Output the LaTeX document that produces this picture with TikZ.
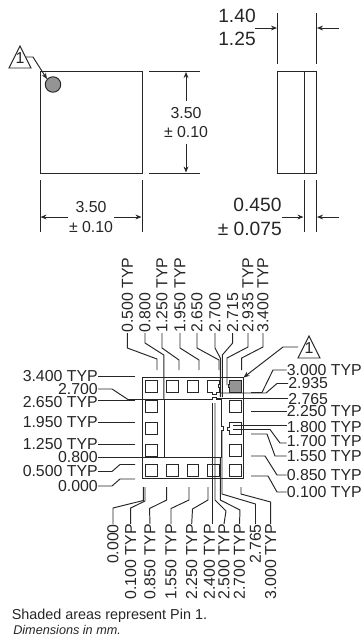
\documentclass[tikz,border=0pt]{standalone}
\usepackage{fontspec}
\setmainfont{Liberation Sans}
\usetikzlibrary{arrows.meta}
\newcommand{\fsA}{\fontsize{11.9}{13}\selectfont}
\newcommand{\fsB}{\fontsize{14.4}{16}\selectfont}
\tikzset{
  ln/.style={line width=0.72pt,black!85},
  dim/.style={ln,-{Stealth[length=4.5pt,width=3.6pt]}},
  txt/.style={inner sep=0pt,font=\fsA,text=black!85},
  big/.style={inner sep=0pt,font=\fsB,text=black!85},
  ltop/.style={txt,rotate=90,anchor=west},
  lbot/.style={txt,rotate=90,anchor=east},
  lleft/.style={txt,anchor=east},
  lright/.style={txt,anchor=west},
  padbox/.style={ln},
  shade/.style={ln,fill=black!42},
  flag/.style={ln,fill=white}
}
\begin{document}
\begin{tikzpicture}[x=0.75pt,y=-0.75pt]
\useasboundingbox (0,0) rectangle (361,636);
% top view
\draw[ln] (40,71) rectangle (142,173);
\draw[shade] (53,84.5) circle[radius=5.8pt];
\draw[flag] (9,68) -- (31,68) -- (20,46) -- cycle;
\node[txt] (f1) at (20,58) {1};
\draw[dim] (26,57) -- (33,57) -- (47,79);
\draw[ln] (149,71) -- (200,71) (149,173) -- (200,173);
\node[txt] (h1) at (186,113) {3.50};
\node[txt] (h2) at (186,132) {± 0.10};
\draw[dim] (h1.north) ++(0,-6) -- (186,72);
\draw[dim] (h2.south) ++(0,6) -- (186,172.5);
\draw[ln] (40,180) -- (40,232) (142,180) -- (142,232);
\node[txt] (w1) at (91,207) {3.50};
\node[txt] (w2) at (91,227) {± 0.10};
\draw[dim] (68,217) -- (40.5,217);
\draw[dim] (114,217) -- (141.5,217);
% side view
\draw[ln] (277.5,71) rectangle (316.5,173);
\draw[ln] (304,71) -- (304,173);
\draw[ln] (277.5,13) -- (277.5,64) (316.5,13) -- (316.5,64);
\node[big] (s1) at (237,16) {1.40};
\node[big] (s2) at (237,39) {1.25};
\draw[dim] (255,28) -- (277,28);
\draw[dim] (339,28) -- (317,28);
\draw[ln] (304,180) -- (304,232) (316.5,180) -- (316.5,232);
\node[big] (t1) at (257.5,204.5) {0.450};
\node[big,anchor=east] (t2) at (282,228.5) {± 0.075};
\draw[dim] (282,217) -- (303.5,217);
\draw[dim] (339,217) -- (317,217);
% bottom view
\draw[ln] (142.5,377.5) rectangle (243.7,478.5);
\foreach \x/\w in {145.5/11.5,166.5/11.7,187.2/11.3} {
  \draw[padbox] (\x,380.5) rectangle ++(\w,11.7);
  \draw[padbox] (\x,464.5) rectangle ++(\w,11.7);
}
\draw[padbox] (207.5,464.5) rectangle ++(12,11.7);
\draw[padbox] (229.5,464.5) rectangle ++(12,11.7);
\foreach \y in {400.3,422.3,444.3} \draw[padbox] (145.5,\y) rectangle ++(11.5,12.3);
\foreach \y in {400.3,444.3} \draw[padbox] (229.5,\y) rectangle ++(12,12.3);
% notched pads
\draw[padbox] (207.5,380.5) -- (219.5,380.5) -- (219.5,384) -- (218,384) -- (218,387.5) -- (219.5,387.5) -- (219.5,392.2) -- (216,392.2) -- (216,394) -- (212.5,394) -- (212.5,392.2) -- (207.5,392.2) -- cycle;
\draw[shade] (229.5,380.5) -- (241.5,380.5) -- (241.5,392.2) -- (229.5,392.2) -- (229.5,387.5) -- (228,387.5) -- (228,384) -- (229.5,384) -- cycle;
\draw[padbox] (229.5,422.3) -- (241.5,422.3) -- (241.5,434.7) -- (229.5,434.7) -- (229.5,430.5) -- (227.5,430.5) -- (227.5,427) -- (229.5,427) -- cycle;
% centre pad
\draw[ln,fill=white] (164.5,399.5) -- (212.5,399.5) -- (212.5,397) -- (216,397) -- (216,399.5) -- (221.7,399.5) -- (221.7,426.5) -- (223.7,426.5) -- (223.7,430) -- (221.7,430) -- (221.7,457.5) -- (164.5,457.5) -- cycle;
% left labels
\node[lleft] (l1) at (98,376) {3.400 TYP};
\node[lleft] (l2) at (98,389) {2.700};
\node[lleft] (l3) at (98,402) {2.650 TYP};
\node[lleft] (l4) at (98,422) {1.950 TYP};
\node[lleft] (l5) at (98,444) {1.250 TYP};
\node[lleft] (l6) at (98,457) {0.800};
\node[lleft] (l7) at (98,471.5) {0.500 TYP};
\node[lleft] (l8) at (98,486) {0.000};
\draw[ln] (l1.east) -- (135,376);
\draw[ln] (l2.east) -- (112,389) -- (128,399.5) -- (164.5,399.5);
\draw[ln] (l3.east) ++(0,-2) -- (135,400);
\draw[ln] (l4.east) -- (135,422);
\draw[ln] (l5.east) -- (135,444);
\draw[ln] (l6.east) -- (164.5,457);
\draw[ln] (l7.east) -- (112,471.5) -- (120,464.5) -- (135,464.5);
\draw[ln] (l8.east) -- (112,486) -- (120,479) -- (135,479);
% right labels
\node[lright] (r1) at (286.5,370) {3.000 TYP};
\node[lright] (r2) at (288,383.5) {2.935};
\node[lright] (r3) at (288,399) {2.765};
\node[lright] (r4) at (286.5,411.5) {2.250 TYP};
\node[lright] (r5) at (286.5,427) {1.800 TYP};
\node[lright] (r6) at (286.5,441.5) {1.700 TYP};
\node[lright] (r7) at (286.5,456) {1.550 TYP};
\node[lright] (r8) at (286.5,475) {0.850 TYP};
\node[lright] (r9) at (286.5,492) {0.100 TYP};
\draw[ln] (r1.west) -- (273,370) -- (262,392.5) -- (251,392.5);
\draw[ln] (r2.west) -- (277,383.5) -- (266,393) -- (220,393);
\draw[ln] (r3.west) ++(0,-1) -- (217,398);
\draw[ln] (r4.west) -- (251,411.5);
\draw[ln] (r5.west) ++(0,-1.5) -- (233,425.5);
\draw[ln] (r6.west) ++(0,1.5) -- (280,443) -- (270,429.5) -- (233,429.5);
\draw[ln] (r7.west) -- (275,456) -- (267,434) -- (251,434);
\draw[ln] (r8.west) -- (277,475) -- (265,456) -- (251,456);
\draw[ln] (r9.west) -- (277,492) -- (268,476) -- (251,476);
% top labels
\node[ltop] (a1) at (127.3,333) {0.500 TYP};
\node[ltop] (a2) at (145,333) {0.800};
\node[ltop] (a3) at (162,333) {1.250 TYP};
\node[ltop] (a4) at (180,333) {1.950 TYP};
\node[ltop] (a5) at (197,333) {2.650};
\node[ltop] (a6) at (215,333) {2.700};
\node[ltop] (a7) at (232.7,333) {2.715};
\node[ltop] (a8) at (248,333) {2.935 TYP};
\node[ltop] (a9) at (263,333) {3.400 TYP};
\draw[ln] (a1.west) -- (127.3,348) -- (157,359) -- (157,370);
\draw[ln] (a2.west) -- (145,343) -- (163.8,355) -- (163.8,399.5);
\draw[ln] (a3.west) -- (162,348) -- (179,360) -- (179,370);
\draw[ln] (a4.west) -- (180,348) -- (199,360) -- (199,370);
\draw[ln] (a5.west) -- (197,348) -- (219,360) -- (219,370);
\draw[ln] (a6.west) -- (215,348) -- (220.3,358) -- (220.3,397);
\draw[ln] (a7.west) -- (232.7,343) -- (222.3,355) -- (222.3,397);
\draw[ln] (a8.west) -- (248,347) -- (227,358) -- (227,385);
\draw[ln] (a9.west) -- (263,347) -- (241.7,358) -- (241.7,370);
% bottom labels
\node[lbot] (b1) at (113,524) {0.000};
\node[lbot] (b2) at (130.7,524) {0.100 TYP};
\node[lbot] (b3) at (150,524) {0.850 TYP};
\node[lbot] (b4) at (171,524) {1.550 TYP};
\node[lbot] (b5) at (191.7,524) {2.250 TYP};
\node[lbot] (b6) at (209.5,524) {2.400 TYP};
\node[lbot] (b7) at (224,524) {2.500 TYP};
\node[lbot] (b8) at (239.5,524) {2.700 TYP};
\node[lbot] (b9) at (255.5,524) {2.765};
\node[lbot] (b10) at (270.7,524) {3.000 TYP};
\draw[ln] (b1.east) -- (113,508) -- (143.3,500.5) -- (143.3,487);
\draw[ln] (b2.east) -- (130.7,508) -- (145,501) -- (145,487);
\draw[ln] (b3.east) -- (149.5,508.5) -- (166.7,500) -- (166.7,487);
\draw[ln] (b4.east) -- (171,508.5) -- (189,500) -- (189,487);
\draw[ln] (b5.east) -- (192.5,509) -- (208,500) -- (208,487);
\draw[ln] (b6.east) ++(2.8,0) -- (212.3,403);
\draw[ln] (b7.east) -- (226,511) -- (215,500) -- (215,403);
\draw[ln] (b8.east) -- (240,510) -- (220.3,500) -- (220.3,458);
\draw[ln] (b9.east) -- (255.5,504) -- (222,494) -- (222,430);
\draw[ln] (b10.east) -- (270.7,502) -- (241,494) -- (241,487);
% flag 2
\draw[flag] (298,358) -- (320,358) -- (309,336) -- cycle;
\node[txt] (f2) at (309,348) {1};
\draw[dim] (298,347) -- (283,347) -- (243.5,377.5);
% notes
\node[inner sep=0pt,anchor=west,font=\fontsize{10.8}{12}\selectfont,text=black!85] (n1) at (11.5,616) {Shaded areas represent Pin 1.};
\node[inner sep=0pt,anchor=west,font=\fontsize{9.5}{10}\selectfont\itshape,text=black!85] (n2) at (13,629.5) {Dimensions in mm.};
\end{tikzpicture}
\end{document}
